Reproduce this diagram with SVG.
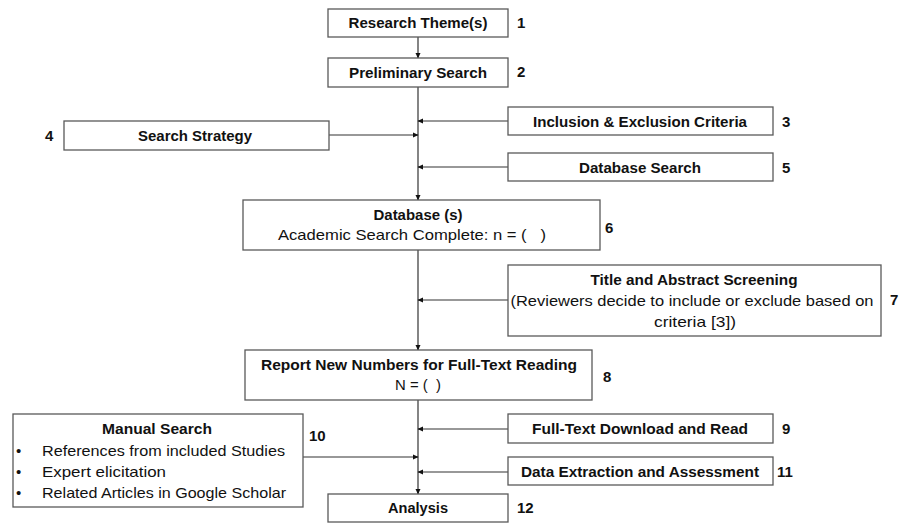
<svg xmlns="http://www.w3.org/2000/svg" width="902" height="523" viewBox="0 0 902 523">
<style>
.box{fill:#fff;stroke:#595959;stroke-width:1.3}
.t{font-family:"Liberation Sans",Arial,sans-serif;font-size:15px;fill:#111;text-anchor:middle}
.b{font-weight:bold}
.n{font-family:"Liberation Sans",Arial,sans-serif;font-size:15px;font-weight:bold;fill:#111}
.c{stroke:#333;stroke-width:1.2;fill:none;marker-end:url(#ah)}
</style>
<defs>
<marker id="ah" markerWidth="6" markerHeight="6" refX="5" refY="3" orient="auto" markerUnits="userSpaceOnUse">
<path d="M0,0.5 L5.5,3 L0,5.5 Z" fill="#111"/>
</marker>
</defs>
<rect width="902" height="523" fill="#fff"/>
<g id="connectors">
<line class="c" x1="418" y1="37" x2="418" y2="58"/>
<line class="c" x1="418" y1="87" x2="418" y2="200"/>
<line class="c" x1="418" y1="250" x2="418" y2="350"/>
<line class="c" x1="418" y1="400" x2="418" y2="494"/>
<line class="c" x1="329" y1="135" x2="418" y2="135"/>
<line class="c" x1="508" y1="121" x2="418" y2="121"/>
<line class="c" x1="508" y1="167" x2="418" y2="167"/>
<line class="c" x1="508" y1="300" x2="418" y2="300"/>
<line class="c" x1="508" y1="429" x2="418" y2="429"/>
<line class="c" x1="303" y1="457" x2="418" y2="457"/>
<line class="c" x1="508" y1="472" x2="418" y2="472"/>
</g>
<g id="n1">
<rect class="box" x="328" y="9" width="180" height="28"/>
<text class="t b" x="418" y="28" textLength="139" lengthAdjust="spacingAndGlyphs">Research Theme(s)</text>
<text class="n" x="517" y="28">1</text>
</g>
<g id="n2">
<rect class="box" x="328" y="58" width="180" height="29"/>
<text class="t b" x="418" y="78" textLength="138" lengthAdjust="spacingAndGlyphs">Preliminary Search</text>
<text class="n" x="517" y="77">2</text>
</g>
<g id="n3">
<rect class="box" x="508" y="107" width="265" height="28"/>
<text class="t b" x="640" y="127" textLength="214" lengthAdjust="spacingAndGlyphs">Inclusion &amp; Exclusion Criteria</text>
<text class="n" x="782" y="127">3</text>
</g>
<g id="n4">
<rect class="box" x="64" y="121" width="265" height="29"/>
<text class="t b" x="195" y="141" textLength="114" lengthAdjust="spacingAndGlyphs">Search Strategy</text>
<text class="n" x="45" y="141">4</text>
</g>
<g id="n5">
<rect class="box" x="508" y="153" width="265" height="28"/>
<text class="t b" x="640" y="173" textLength="122" lengthAdjust="spacingAndGlyphs">Database Search</text>
<text class="n" x="782" y="173">5</text>
</g>
<g id="n6">
<rect class="box" x="243" y="200" width="357" height="50"/>
<text class="t b" x="418" y="220" textLength="89" lengthAdjust="spacingAndGlyphs">Database (s)</text>
<text class="t" x="412" y="240" textLength="268" lengthAdjust="spacingAndGlyphs">Academic Search Complete: n = (&#160;&#160;&#160;)</text>
<text class="n" x="605" y="233">6</text>
</g>
<g id="n7">
<rect class="box" x="508" y="265" width="373" height="71"/>
<text class="t b" x="694" y="285" textLength="207" lengthAdjust="spacingAndGlyphs">Title and Abstract Screening</text>
<text class="t" x="692" y="306" textLength="363" lengthAdjust="spacingAndGlyphs">(Reviewers decide to include or exclude based on</text>
<text class="t" x="695" y="327" textLength="82" lengthAdjust="spacingAndGlyphs">criteria [3])</text>
<text class="n" x="890" y="305">7</text>
</g>
<g id="n8">
<rect class="box" x="245" y="350" width="347" height="50"/>
<text class="t b" x="419" y="370" textLength="316" lengthAdjust="spacingAndGlyphs">Report New Numbers for Full-Text Reading</text>
<text class="t" x="418" y="390" textLength="46" lengthAdjust="spacingAndGlyphs">N = (&#160;&#160;)</text>
<text class="n" x="603" y="382">8</text>
</g>
<g id="n9">
<rect class="box" x="508" y="414" width="265" height="29"/>
<text class="t b" x="640" y="434" textLength="216" lengthAdjust="spacingAndGlyphs">Full-Text Download and Read</text>
<text class="n" x="782" y="434">9</text>
</g>
<g id="n10">
<rect class="box" x="13" y="414" width="290" height="93"/>
<text class="t b" x="157" y="434" textLength="110" lengthAdjust="spacingAndGlyphs">Manual Search</text>
<text class="n" x="309" y="441">10</text>
<g class="t" style="text-anchor:start">
<text x="16" y="456">•</text>
<text x="42" y="456" textLength="243" lengthAdjust="spacingAndGlyphs">References from included Studies</text>
<text x="16" y="477">•</text>
<text x="42" y="477" textLength="124" lengthAdjust="spacingAndGlyphs">Expert elicitation</text>
<text x="16" y="498">•</text>
<text x="42" y="498" textLength="244" lengthAdjust="spacingAndGlyphs">Related Articles in Google Scholar</text>
</g>
</g>
<g id="n11">
<rect class="box" x="508" y="457" width="265" height="28"/>
<text class="t b" x="640" y="477" textLength="238" lengthAdjust="spacingAndGlyphs">Data Extraction and Assessment</text>
<text class="n" x="777" y="477">11</text>
</g>
<g id="n12">
<rect class="box" x="328" y="494" width="180" height="28"/>
<text class="t b" x="418" y="513" textLength="60" lengthAdjust="spacingAndGlyphs">Analysis</text>
<text class="n" x="517" y="513">12</text>
</g>
</svg>
